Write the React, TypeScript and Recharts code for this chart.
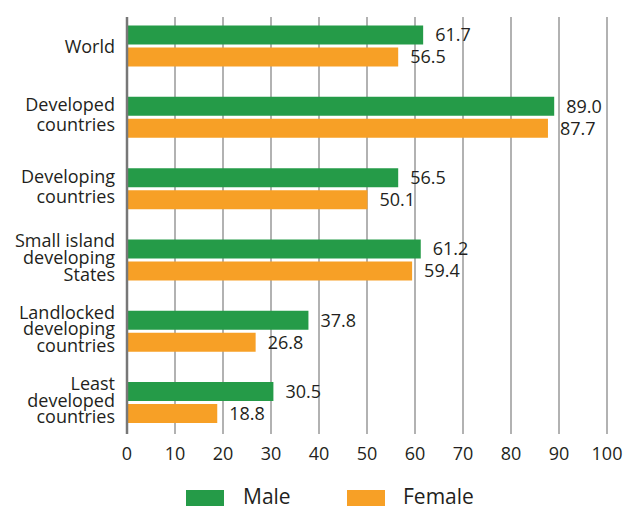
import React from 'react';
import { BarChart, Bar, XAxis, YAxis, CartesianGrid, LabelList } from 'recharts';

// country groups, line breaks as printed on the axis
const groups = [
	'World',
	'Developed\ncountries',
	'Developing\ncountries',
	'Small island\ndeveloping\nStates',
	'Landlocked\ndeveloping\ncountries',
	'Least\ndeveloped\ncountries',
];

const male = [61.7, 89.0, 56.5, 61.2, 37.8, 30.5];
const female = [56.5, 87.7, 50.1, 59.4, 26.8, 18.8];

const xTicks = [0, 10, 20, 30, 40, 50, 60, 70, 80, 90, 100];

const series = [
	{ key: 'male', name: 'Male', color: '#259B48' },
	{ key: 'female', name: 'Female', color: '#F7A026' },
];

const data = groups.map((g, i) => ({ group: g, male: male[i], female: female[i] }));

const FONT = '"Open Sans", sans-serif';
const INK = '#231F20';

function GroupTick(props: any) {
	const { y, payload } = props;
	const lines: string[] = String(payload.value).split('\n');
	const step = lines.length > 2 ? 16.7 : 20;
	const first = y + (lines.length > 1 ? 4 : 7) - ((lines.length - 1) * step) / 2;
	return (
		<text x={115} y={first} textAnchor="end" fill={INK} fontSize={18} fontFamily={FONT}>
			{lines.map((l, i) => (
				<tspan key={i} x={115} y={first + i * step}>
					{l}
				</tspan>
			))}
		</text>
	);
}

export default function App() {
	return (
		<div style={{ position: 'absolute', left: 0, top: 0, width: 626, height: 506, background: '#fff', overflow: 'hidden' }}>
			<BarChart
				width={626}
				height={506}
				data={data}
				layout="vertical"
				barSize={19}
				barGap={3}
				margin={{ top: 17, right: 19, left: 0, bottom: 42 }}
			>
				<CartesianGrid horizontal={false} stroke="#999" strokeWidth={1.5} />
				<XAxis
					type="number"
					domain={[0, 100]}
					ticks={xTicks}
					axisLine={false}
					tickLine={false}
					tickMargin={7}
					height={30}
					tick={{ fill: INK, fontSize: 18, fontFamily: FONT }}
				/>
				<YAxis
					type="category"
					dataKey="group"
					width={127}
					padding={{ top: -6.5, bottom: -4.4 }}
					axisLine={{ stroke: '#777', strokeWidth: 2.5 }}
					tickLine={false}
					tick={<GroupTick />}
					interval={0}
				/>
				{series.map((s) => (
					<Bar key={s.key} dataKey={s.key} name={s.name} fill={s.color} isAnimationActive={false}>
						<LabelList
							dataKey={s.key}
							position="right"
							offset={12}
							formatter={(v: any) => Number(v).toFixed(1)}
							fill={INK}
							fontSize={18}
							fontFamily={FONT}
						/>
					</Bar>
				))}
			</BarChart>
			{series.map((s, i) => (
				<div key={s.key}>
					<div
						style={{
							position: 'absolute',
							left: 186 + i * 161,
							top: 490,
							width: 38,
							height: 18,
							background: s.color,
						}}
					/>
					<div
						style={{
							position: 'absolute',
							left: 243 + i * 160,
							top: 482,
							fontFamily: FONT,
							fontSize: 21,
							color: INK,
							whiteSpace: 'nowrap',
						}}
					>
						{s.name}
					</div>
				</div>
			))}
		</div>
	);
}
